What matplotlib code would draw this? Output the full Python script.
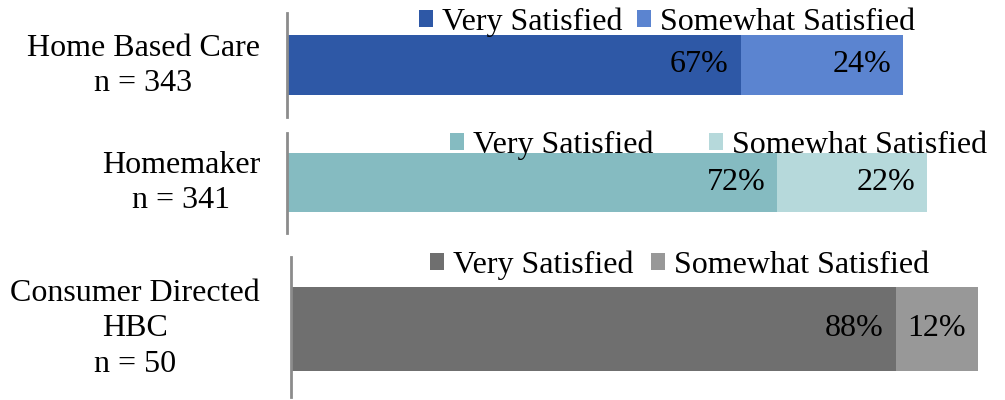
import matplotlib.pyplot as plt

plt.rcParams['font.family'] = ['Liberation Serif', 'DejaVu Serif']

# data
groups = ["Home Based Care\nn = 343", "Homemaker\nn = 341", "Consumer Directed\nHBC\nn = 50"]
very_satisfied = [67, 72, 88]
somewhat_satisfied = [24, 22, 12]
legend_labels = ["Very Satisfied", "Somewhat Satisfied"]

dark_colors = ["#2E58A6", "#85BBC1", "#6F6F6F"]
light_colors = ["#5B84D0", "#B6D9DB", "#989898"]

W, H = 1005, 400
fig = plt.figure(figsize=(W / 100, H / 100), dpi=100)

# panel layout in pixels: axis x, width of 100%, axis top, axis bottom, bar top, bar bottom
panels = [
    dict(x=287, w=677, top=13, bot=117, btop=35, bbot=95, leg=(419, 22), colsp=0.45, label_y=66),
    dict(x=287, w=681, top=133, bot=233, btop=153, bbot=212, leg=(450, 145), colsp=1.75, label_y=183),
    dict(x=291, w=687, top=257, bot=397, btop=287, bbot=371, leg=(430, 265), colsp=0.55, label_y=329),
]

FS = 23

for i, p in enumerate(panels):
    ax = fig.add_axes([p["x"] / W, 1 - p["bot"] / H, p["w"] / W, (p["bot"] - p["top"]) / H])
    ax.set_xlim(0, 100)
    ax.set_ylim(0, 1)
    yc = (p["bot"] - (p["btop"] + p["bbot"]) / 2) / (p["bot"] - p["top"])
    hgt = (p["bbot"] - p["btop"]) / (p["bot"] - p["top"])
    b1 = ax.barh(yc, very_satisfied[i], height=hgt, color=dark_colors[i], label=legend_labels[0])
    b2 = ax.barh(yc, somewhat_satisfied[i], left=very_satisfied[i], height=hgt,
                 color=light_colors[i], label=legend_labels[1])
    # labels inside the end of each segment
    ends = [very_satisfied[i], very_satisfied[i] + somewhat_satisfied[i]]
    vals = [very_satisfied[i], somewhat_satisfied[i]]
    for end, val in zip(ends, vals):
        ax.annotate(f"{val}%", xy=(end, yc), xytext=(-12, 0), textcoords='offset pixels',
                    ha='right', va='center', fontsize=FS, color='black')
    for s in ("top", "right", "bottom"):
        ax.spines[s].set_visible(False)
    ax.spines["left"].set_color("#8C8C8C")
    ax.spines["left"].set_linewidth(2)
    ax.set_xticks([])
    ax.set_yticks([])
    ax.patch.set_alpha(0)

    lx, ly = p["leg"]
    ax.legend(handles=[b1, b2], loc='center left', bbox_to_anchor=(lx / W, 1 - ly / H),
              bbox_transform=fig.transFigure, ncol=2, frameon=False, fontsize=FS,
              handlelength=0.44, handleheight=0.44, handletextpad=0.28,
              columnspacing=p["colsp"], borderpad=0, borderaxespad=0)

    fig.text(260 / W, 1 - p["label_y"] / H, groups[i], ha='right', va='center',
             multialignment='center', fontsize=FS, linespacing=1.3)

fig.savefig("out.png", dpi=100)
